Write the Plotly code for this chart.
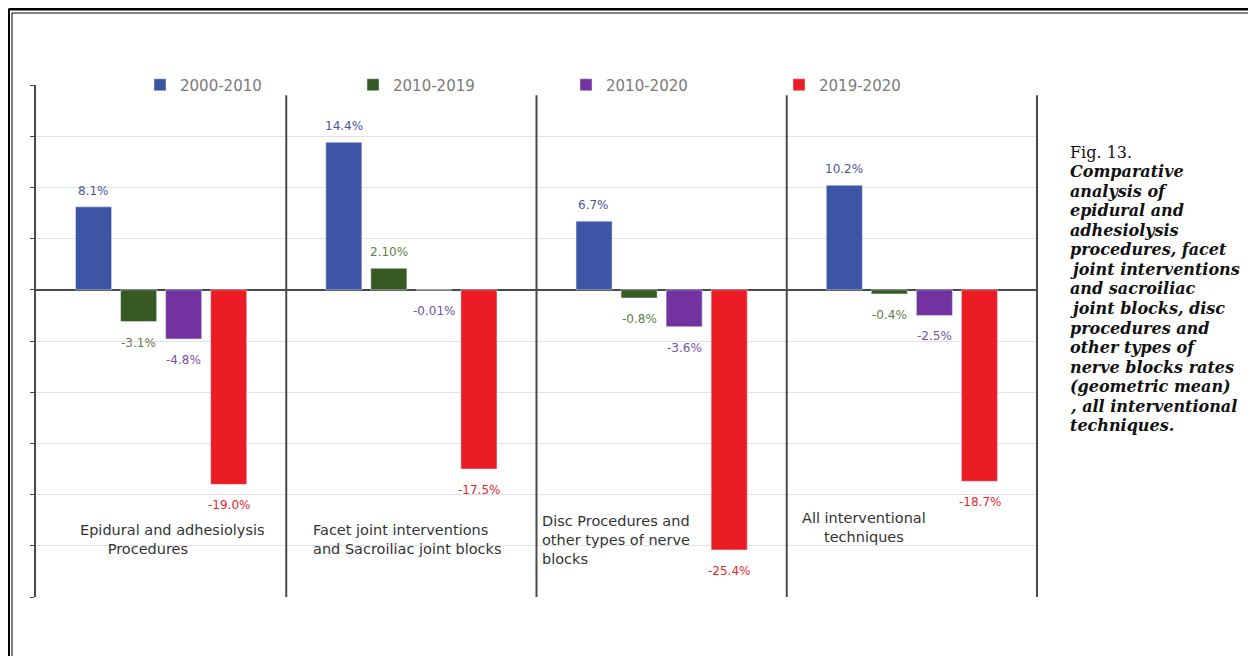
import plotly.graph_objects as go

# data
categories = ["Epidural", "Facet", "Disc", "All"]
cat_labels = [
    "Epidural and adhesiolysis<br>\u00a0\u00a0\u00a0\u00a0\u00a0\u00a0Procedures",
    "Facet joint interventions<br>and Sacroiliac joint blocks",
    "Disc Procedures and<br>other types of nerve<br>blocks",
    "All interventional<br>techniques",
]
series = ["2000-2010", "2010-2019", "2010-2020", "2019-2020"]
v_2000_2010 = [8.1, 14.4, 6.7, 10.2]
v_2010_2019 = [-3.1, 2.10, -0.8, -0.4]
v_2010_2020 = [-4.8, -0.01, -3.6, -2.5]
v_2019_2020 = [-19.0, -17.5, -25.4, -18.7]
t_2000_2010 = ["8.1%", "14.4%", "6.7%", "10.2%"]
t_2010_2019 = ["-3.1%", "2.10%", "-0.8%", "-0.4%"]
t_2010_2020 = ["-4.8%", "-0.01%", "-3.6%", "-2.5%"]
t_2019_2020 = ["-19.0%", "-17.5%", "-25.4%", "-18.7%"]

bar_colors = ["#3d55a5", "#375a25", "#7232a0", "#ec1c24"]
txt_colors = ["#4b55a3", "#5f7d45", "#7552aa", "#e8262e"]

# the page has an 8px body margin, so the figure is drawn 8px in from the corner
OFF = 8
W, H = 1256 - OFF, 656 - OFF
ML, MT = 36, 85          # plot area corner, page pixels
PR, PB = 1038, 597       # plot area far corner, page pixels
PW = PR - ML
PH = PB - MT
BARGAP = 0.28


def px_x(p):
    return (p - ML) / PW


def px_y(p):
    return 1 - (p - MT) / PH


fig = go.Figure()
vals = [v_2000_2010, v_2010_2019, v_2010_2020, v_2019_2020]
txts = [t_2000_2010, t_2010_2019, t_2010_2020, t_2019_2020]
slot = PW / len(categories) * (1 - BARGAP) / len(series)
for i, (name, v, t, c, tc) in enumerate(zip(series, vals, txts, bar_colors, txt_colors)):
    fig.add_trace(go.Bar(x=categories, y=v, name=name, marker_color=c))
    # value labels, a little off the end of each bar
    for cat, val, lab in zip(categories, v, t):
        fig.add_annotation(x=cat, y=val, text=lab, showarrow=False,
                           xshift=(i - 1.5) * slot, yshift=16 if val > 0 else -21,
                           xanchor="center", yanchor="middle",
                           font=dict(family="DejaVu Sans", size=12, color=tc))

# category names drawn inside the plot, near the bottom
cat_pos = [(-83, "left", -24.4), (-100, "left", -24.4), (-122, "left", -24.4), (-48, "center", -23.2)]
for cat, lab, (xs, anc, yy) in zip(categories, cat_labels, cat_pos):
    fig.add_annotation(x=cat, y=yy, text=lab, showarrow=False, xshift=xs, xanchor=anc,
                       align="left" if anc == "left" else "center", yanchor="middle",
                       font=dict(family="DejaVu Sans", size=14.5, color="#333333"))

# separators between groups
for xv in [0.5, 1.5, 2.5, 3.5]:
    fig.add_shape(type="line", xref="x", yref="y", x0=xv, x1=xv, y0=-30, y1=19,
                  line=dict(color="#4a4a4a", width=2))

# caption
caption = ["Comparative", "analysis of", "epidural and", "adhesiolysis", "procedures, facet",
           "joint interventions", "and sacroiliac", "joint blocks, disc", "procedures and",
           "other types of", "nerve blocks rates", "(geometric mean)", ", all interventional",
           "techniques."]
fig.add_annotation(xref="paper", yref="paper", x=px_x(1068), y=px_y(152), text="Fig. 13.",
                   showarrow=False, xanchor="left", yanchor="middle",
                   font=dict(family="DejaVu Serif", size=16, color="#111111"))
for i, line in enumerate(caption):
    fig.add_annotation(xref="paper", yref="paper", x=px_x(1068), y=px_y(152 + 19.57 * (i + 1)),
                       text="<b><i>" + line + "</i></b>", showarrow=False,
                       xanchor="left", yanchor="middle",
                       font=dict(family="DejaVu Serif", size=16, color="#111111"))

# page frame (double rule on top and left)
frame = dict(xref="paper", yref="paper", type="line")
fig.add_shape(**frame, x0=px_x(8.5), x1=px_x(1300), y0=px_y(9), y1=px_y(9), line=dict(color="black", width=3))
fig.add_shape(**frame, x0=px_x(8.5), x1=px_x(8.5), y0=px_y(9), y1=px_y(700), line=dict(color="black", width=3))
fig.add_shape(**frame, x0=px_x(12), x1=px_x(1300), y0=px_y(13), y1=px_y(13), line=dict(color="black", width=1))
fig.add_shape(**frame, x0=px_x(12), x1=px_x(12), y0=px_y(13), y1=px_y(700), line=dict(color="black", width=1))

fig.update_layout(
    width=W, height=H,
    margin=dict(l=ML - OFF, r=W - (PR - OFF), t=MT - OFF, b=H - (PB - OFF)),
    paper_bgcolor="white", plot_bgcolor="white",
    barmode="group", bargap=BARGAP, bargroupgap=0.2,
    showlegend=True,
    legend=dict(orientation="h", x=px_x(140), xanchor="left", y=1.0, yanchor="middle",
                entrywidth=168, bgcolor="rgba(0,0,0,0)",
                font=dict(family="DejaVu Sans", size=15, color="#7a7a7a")),
    font=dict(family="DejaVu Sans"),
)
fig.update_xaxes(showticklabels=False, showgrid=False, zeroline=False, showline=False, ticks="")
fig.update_yaxes(range=[-30, 20], dtick=5, showticklabels=False, showgrid=True,
                 gridcolor="#e2e2e2", gridwidth=1, zeroline=True, zerolinecolor="#4a4a4a",
                 zerolinewidth=2, showline=True, linecolor="#4a4a4a", linewidth=2,
                 ticks="outside", ticklen=4, tickcolor="#4a4a4a")

fig.write_html("out.html")
